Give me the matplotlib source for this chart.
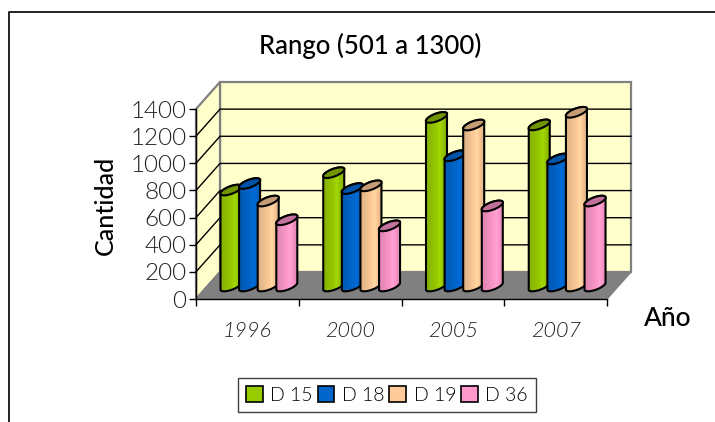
import numpy as np
import matplotlib
matplotlib.use("Agg")
import matplotlib.pyplot as plt
from matplotlib.lines import Line2D
from matplotlib.patches import Patch, PathPatch, Polygon
from matplotlib.path import Path

# Data
years = ["1996", "2000", "2005", "2007"]
d15 = [707, 835, 1242, 1187]
d18 = [755, 718, 960, 936]
d19 = [626, 738, 1186, 1280]
d36 = [488, 443, 590, 626]
series_names = ["D 15", "D 18", "D 19", "D 36"]
series_values = [d15, d18, d19, d36]
colors = ["#99CC00", "#0066CC", "#FFCC99", "#FF99CC"]
cap_colors = ["#709500", "#0054A8", "#C49C76", "#C2709C"]
y_ticks = [0, 200, 400, 600, 800, 1000, 1200, 1400]

W, H = 715, 422
FONT = ["Lato", "DejaVu Sans"]
plt.rcParams["font.family"] = FONT

fig = plt.figure(figsize=(W / 100, H / 100), dpi=100)
# the axes is the front plane of the 3D box
ax = fig.add_axes([196 / W, (H - 299) / H, 411 / W, 190 / H])
ax.set_xlim(0, 4)
ax.set_ylim(0, 1400)

# pixels to data units
ux = 4 / 411
uy = 1400 / 190
depth_x = 24 * ux
depth_y = 27 * uy

# walls and floor
wall = "#FFFFCC"
edge = "#808080"
ax.add_patch(Polygon([(depth_x, depth_y), (4 + depth_x, depth_y), (4 + depth_x, 1400 + depth_y), (depth_x, 1400 + depth_y)],
                     fc=wall, ec=edge, lw=1.6, clip_on=False, zorder=1))
ax.add_patch(Polygon([(0, 0), (depth_x, depth_y), (depth_x, 1400 + depth_y), (0, 1400)],
                     fc=wall, ec=edge, lw=1.6, clip_on=False, zorder=1))
for v in y_ticks[1:-1]:
    ax.plot([0, depth_x, 4 + depth_x], [v, v + depth_y, v + depth_y], color="black", lw=1.0, clip_on=False, zorder=2)
ax.add_patch(Polygon([(0, 0), (4, 0), (4 + depth_x, depth_y), (depth_x, depth_y)],
                     fc=edge, ec=edge, lw=1, clip_on=False, zorder=3))

# cylinder geometry, in data units
pitch = 18.6 * ux
first_center = 35 * ux
base = 13 * uy
Ax, Ay = 10.5 * ux, 4.0 * uy
Bx, By = -1.5 * ux, 3.5 * uy


def ellipse(cx, cy, t):
    return cx + np.cos(t) * Ax + np.sin(t) * Bx, cy + np.cos(t) * Ay + np.sin(t) * By


shade = np.array([0.88, 0.90, 0.92, 0.95, 0.97, 1.0, 1.06, 1.0, 0.94, 0.90])
order = 10
for s, vals in enumerate(series_values):
    rgb = np.array(matplotlib.colors.to_rgb(colors[s]))
    grad = np.clip(shade[None, :, None] * rgb[None, None, :], 0, 1)
    for g, val in enumerate(vals):
        cx = g + first_center + s * pitch
        top = base + val
        # body outline: top half of the cap then lower half of the base ellipse
        t1 = np.linspace(0, np.pi, 30)
        t2 = np.linspace(np.pi, 2 * np.pi, 30)
        xt, yt = ellipse(cx, top, t1)
        xb, yb = ellipse(cx, base, t2)
        verts = np.r_[np.c_[xt, yt], np.c_[xb, yb], [[xt[0], yt[0]]]]
        body = Path(verts, closed=True)
        im = ax.imshow(grad, extent=(cx - Ax, cx + Ax, base - 2 * Ay, top + 2 * Ay), aspect="auto", zorder=order,
                       interpolation="bilinear")
        patch = PathPatch(body, fc="none", ec="black", lw=1.5, zorder=order + 1, clip_on=False)
        ax.add_patch(patch)
        im.set_clip_path(patch)
        tc = np.linspace(0, 2 * np.pi, 60)
        xc, yc = ellipse(cx, top, tc)
        ax.add_patch(Polygon(np.c_[xc, yc], fc=cap_colors[s], ec="black", lw=1.5, zorder=order + 2, clip_on=False))
    order += 3

ax.set_xlim(0, 4)
ax.set_ylim(0, 1400)

# axes lines and ticks
for side in ["top", "right"]:
    ax.spines[side].set_visible(False)
for side in ["left", "bottom"]:
    ax.spines[side].set_linewidth(1.0)
    ax.spines[side].set_zorder(5)
ax.set_xticks(range(5))
ax.set_xticklabels([])
ax.set_xticks(np.arange(4) + 0.5, minor=True)
ax.set_xticklabels(years, minor=True, fontsize=15.5, fontweight=300, style="italic", color="#202020")
ax.tick_params(axis="x", which="major", length=5, width=1.0)
ax.tick_params(axis="x", which="minor", length=0, pad=16)
ax.set_yticks(y_ticks)
ax.set_yticklabels([str(v) for v in y_ticks], fontsize=17.5, fontweight=300, color="#202020")
ax.tick_params(axis="y", length=5, width=1.0, pad=2)

# texts
fig.text(370 / W, 1 - 46 / H, "Rango (501 a 1300)", ha="center", va="center", fontsize=18.5, fontweight="medium", color="black")
fig.text(105 / W, 1 - 205 / H, "Cantidad", rotation=90, ha="center", va="center", fontsize=18, fontweight="medium", color="black")
fig.text(668 / W, 1 - 319 / H, "Año", ha="center", va="center", fontsize=19, fontweight="medium", color="black")

# chart border, only left and top show in the crop
fig.add_artist(Line2D([9 / W, 9 / W, 1], [0, 1 - 12 / H, 1 - 12 / H], color="#222222", lw=1.4))

# legend
handles = [Patch(fc=c, ec="black", lw=1.2) for c in colors]
leg = fig.legend(handles, series_names, ncol=4, loc="center", bbox_to_anchor=(387 / W, 1 - 395 / H),
                 fancybox=False, edgecolor="#404040", framealpha=1,
                 handlelength=0.85, handleheight=0.85, handletextpad=0.4, columnspacing=0.25, borderpad=0.4,
                 prop={"size": 14, "weight": 300})
leg.get_frame().set_linewidth(1.0)

fig.savefig("out.png", dpi=100)
